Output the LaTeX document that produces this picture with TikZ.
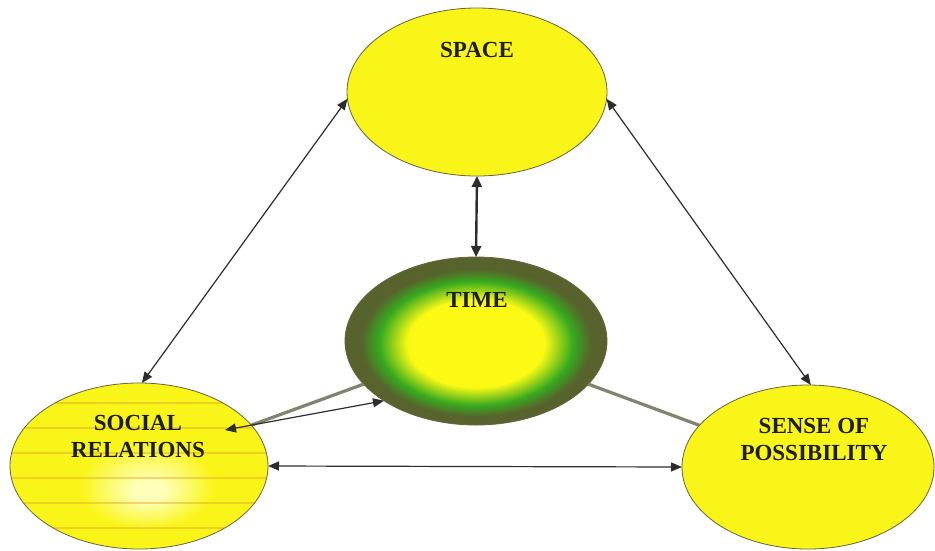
\documentclass[tikz,border=0pt]{standalone}
\usepackage{fontspec}
\setmainfont{Liberation Serif}
\usetikzlibrary{shapes.geometric,arrows.meta,calc}
\definecolor{ely}{RGB}{250,245,25}
\definecolor{edgec}{RGB}{105,100,60}
\definecolor{tyellow}{RGB}{252,250,20}
\definecolor{tgreen}{RGB}{55,170,30}
\definecolor{tdark}{RGB}{88,98,45}
\definecolor{glow}{RGB}{255,255,185}
\definecolor{stripec}{RGB}{228,165,40}
\definecolor{greyline}{RGB}{130,130,110}
\definecolor{arr}{RGB}{45,45,45}
\definecolor{txt}{RGB}{30,30,25}
\pgfdeclareradialshading{timeshade}{\pgfpoint{0bp}{-1bp}}{color(0bp)=(tyellow); color(13bp)=(tyellow); color(18.5bp)=(tgreen); color(22bp)=(tdark); color(25bp)=(tdark); color(50bp)=(tdark)}
\pgfdeclareradialshading{socshade}{\pgfpoint{2bp}{-8bp}}{color(0bp)=(glow); color(3bp)=(glow); color(13bp)=(ely); color(50bp)=(ely)}
\tikzset{
  ell/.style={ellipse, inner sep=0pt, outer sep=0pt, draw=edgec, line width=0.8pt},
  plain/.style={ell, fill=ely},
  lbl/.style={inner sep=0pt, text=txt, font=\bfseries\fontsize{23}{27}\selectfont, align=center},
  link/.style={draw=arr, line width=1.2pt, {Triangle[length=11pt,width=9pt]}-{Triangle[length=11pt,width=9pt]}},
  thicklink/.style={draw=arr, line width=2.4pt, {Triangle[length=11pt,width=10pt]}-{Triangle[length=11pt,width=10pt]}},
  greyl/.style={draw=greyline, line width=3.2pt}
}
\begin{document}
\begin{tikzpicture}[x=1pt,y=-1pt]
\useasboundingbox (0,0) rectangle (935,550);
\fill[white] (0,0) rectangle (935,550);
% ellipses
\node[plain, minimum width=260pt, minimum height=168pt] (space) at (477,92) {};
\node[ell, shading=timeshade, minimum width=262pt, minimum height=168pt] (time) at (476,341) {};
\node[ell, shading=socshade, minimum width=258pt, minimum height=166pt,
  path picture={
    \foreach \k in {-63,-38,-13,12,37,62}
      \draw[stripec, opacity=0.45, line width=1.3pt]
        ($(path picture bounding box.center)+(-140,\k)$) -- ++(280,0);
  }] (social) at (139,466) {};
\node[plain, minimum width=252pt, minimum height=164pt] (sense) at (808,467) {};
% labels
\node[lbl] (spacet) at (477,50) {SPACE};
\node[lbl] (timet) at (477,300) {TIME};
\node[lbl] (socialt) at (138,436.5) {SOCIAL\\RELATIONS};
\node[lbl] (senset) at (814,439.5) {SENSE OF\\POSSIBILITY};
% connectors
\coordinate (socin) at (225,430);
\draw[greyl] (time.201) -- (social.20);
\draw[greyl] (time.-21) -- (sense.159);
\draw[link] (space.183) -- (social.88);
\draw[link] (space.-3) -- (sense.88);
\draw[thicklink] (space.south) -- (time.north);
\draw[link] (social.east) -- (sense.west);
\draw[link] (socin) -- (time.213);
\end{tikzpicture}
\end{document}
